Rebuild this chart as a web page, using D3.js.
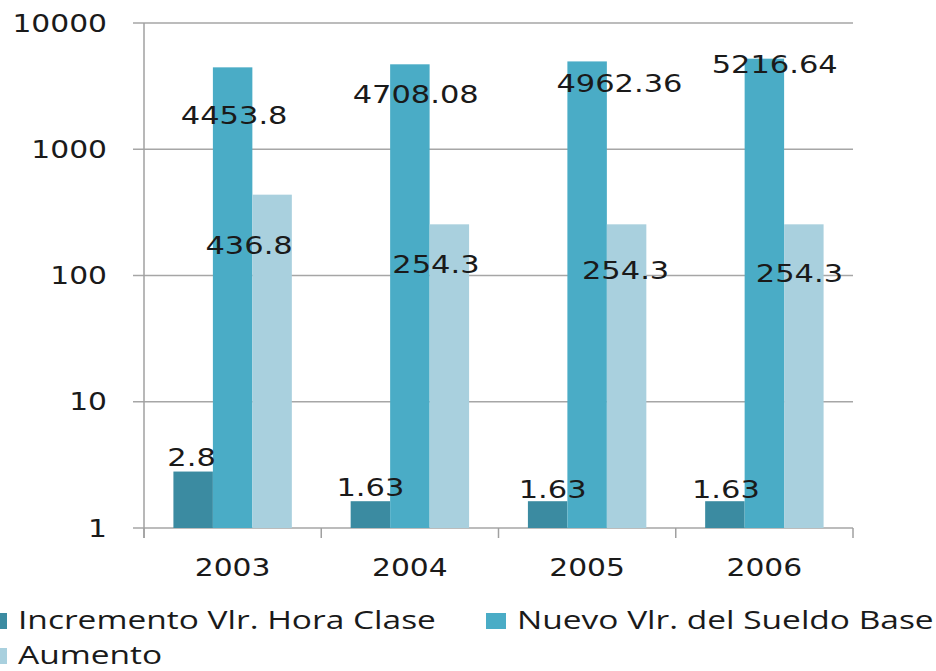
<!DOCTYPE html>
<html>
<head>
<meta charset="utf-8">
<script src="https://cdn.jsdelivr.net/npm/d3@7"></script>
<style>
  html, body { margin: 0; padding: 0; background: #fff; }
  svg { display: block; }
  .num { font-family: "DejaVu Sans", Verdana, sans-serif; font-size: 25px; fill: #1a1a1a; }
  .leg { font-family: "Open Sans", "Noto Sans", sans-serif; font-size: 25px; fill: #1a1a1a; }
</style>
</head>
<body>
<svg id="chart" width="936" height="671"></svg>
<script>
  const years = ["2003", "2004", "2005", "2006"];
  const seriesNames = ["Incremento Vlr. Hora Clase", "Nuevo Vlr. del Sueldo Base", "Aumento"];
  const incremento = [2.8, 1.63, 1.63, 1.63];
  const nuevo = [4453.8, 4708.08, 4962.36, 5216.64];
  const aumento = [436.8, 254.3, 254.3, 254.3];
  const yTicks = [1, 10, 100, 1000, 10000];

  const colors = ["#3b8ba1", "#4aacc6", "#a9d0de"];

  // label nudges (px) from bar centre / bar top, as placed in the original
  const labelNudge = [
    [[-1.6, -5.5], [0, -5.2], [5, -3.2], [1, -3.2]],
    [[1.5, 56.7], [5.8, 38.7], [32.3, 30.6], [10.3, 14.3]],
    [[-23, 59.3], [-13.4, 48.7], [-1, 54.7], [-4.4, 57.7]],
  ];

  const svg = d3.select("#chart");
  const plotL = 144, plotR = 853, plotT = 23, plotB = 528;

  const x = d3.scaleBand().domain(years).range([plotL, plotR]);
  const xs = d3.scaleBand().domain(d3.range(3)).range([0, x.bandwidth()]).paddingOuter(0.745);
  const y = d3.scaleLog().domain([1, 10000]).range([plotB, plotT]);

  const series = [incremento, nuevo, aumento];

  // stretch text horizontally (the source picture is widened)
  function place(sel, px, py, sx) {
    sel.attr("transform", (d, i) => `translate(${px(d, i)},${py(d, i)}) scale(${sx},1)`);
  }

  // gridlines
  svg.append("g")
    .selectAll("line")
    .data(yTicks)
    .join("line")
    .attr("x1", plotL - 11)
    .attr("x2", plotR)
    .attr("y1", (d) => y(d))
    .attr("y2", (d) => y(d))
    .attr("stroke", "#a6a6a6")
    .attr("stroke-width", 1.5);

  // y axis line
  svg.append("line")
    .attr("x1", plotL).attr("x2", plotL)
    .attr("y1", plotT).attr("y2", plotB + 10)
    .attr("stroke", "#a0a0a0")
    .attr("stroke-width", 1.5);

  // x category ticks
  const bounds = years.map((d) => x(d)).concat([plotR]);
  svg.append("g")
    .selectAll("line")
    .data(bounds)
    .join("line")
    .attr("x1", (d) => d).attr("x2", (d) => d)
    .attr("y1", plotB).attr("y2", plotB + 10)
    .attr("stroke", "#a0a0a0")
    .attr("stroke-width", 1.5);

  // y tick labels
  svg.append("g")
    .selectAll("text")
    .data(yTicks)
    .join("text")
    .attr("class", "num")
    .attr("text-anchor", "end")
    .attr("dominant-baseline", "central")
    .text((d) => d3.format("d")(d))
    .call(place, () => 107, (d) => y(d), 1.19);

  // x labels
  svg.append("g")
    .selectAll("text")
    .data(years)
    .join("text")
    .attr("class", "num")
    .attr("text-anchor", "middle")
    .text((d) => d)
    .call(place, (d) => x(d) + x.bandwidth() / 2, () => 576, 1.19);

  // bars
  series.forEach((vals, s) => {
    svg.append("g")
      .selectAll("rect")
      .data(vals)
      .join("rect")
      .attr("x", (d, i) => x(years[i]) + xs(s))
      .attr("width", xs.bandwidth())
      .attr("y", (d) => y(d))
      .attr("height", (d) => y(1) - y(d))
      .attr("fill", colors[s]);
  });

  // data labels
  series.forEach((vals, s) => {
    svg.append("g")
      .selectAll("text")
      .data(vals)
      .join("text")
      .attr("class", "num")
      .attr("text-anchor", "middle")
      .text((d) => d)
      .call(place,
        (d, i) => x(years[i]) + xs(s) + xs.bandwidth() / 2 + labelNudge[s][i][0],
        (d, i) => y(d) + labelNudge[s][i][1],
        1.22);
  });

  // legend
  const legendPos = [[-13, 629], [486, 629], [-13, 664]];
  const lg = svg.append("g")
    .selectAll("g")
    .data(seriesNames)
    .join("g")
    .attr("transform", (d, i) => `translate(${legendPos[i][0]},${legendPos[i][1]})`);
  lg.append("rect")
    .attr("x", 0).attr("y", -16)
    .attr("width", 20).attr("height", 16)
    .attr("fill", (d, i) => colors[i]);
  lg.append("text")
    .attr("class", "leg")
    .text((d) => d)
    .call(place, () => 31, () => 0, 1.34);
</script>
</body>
</html>
